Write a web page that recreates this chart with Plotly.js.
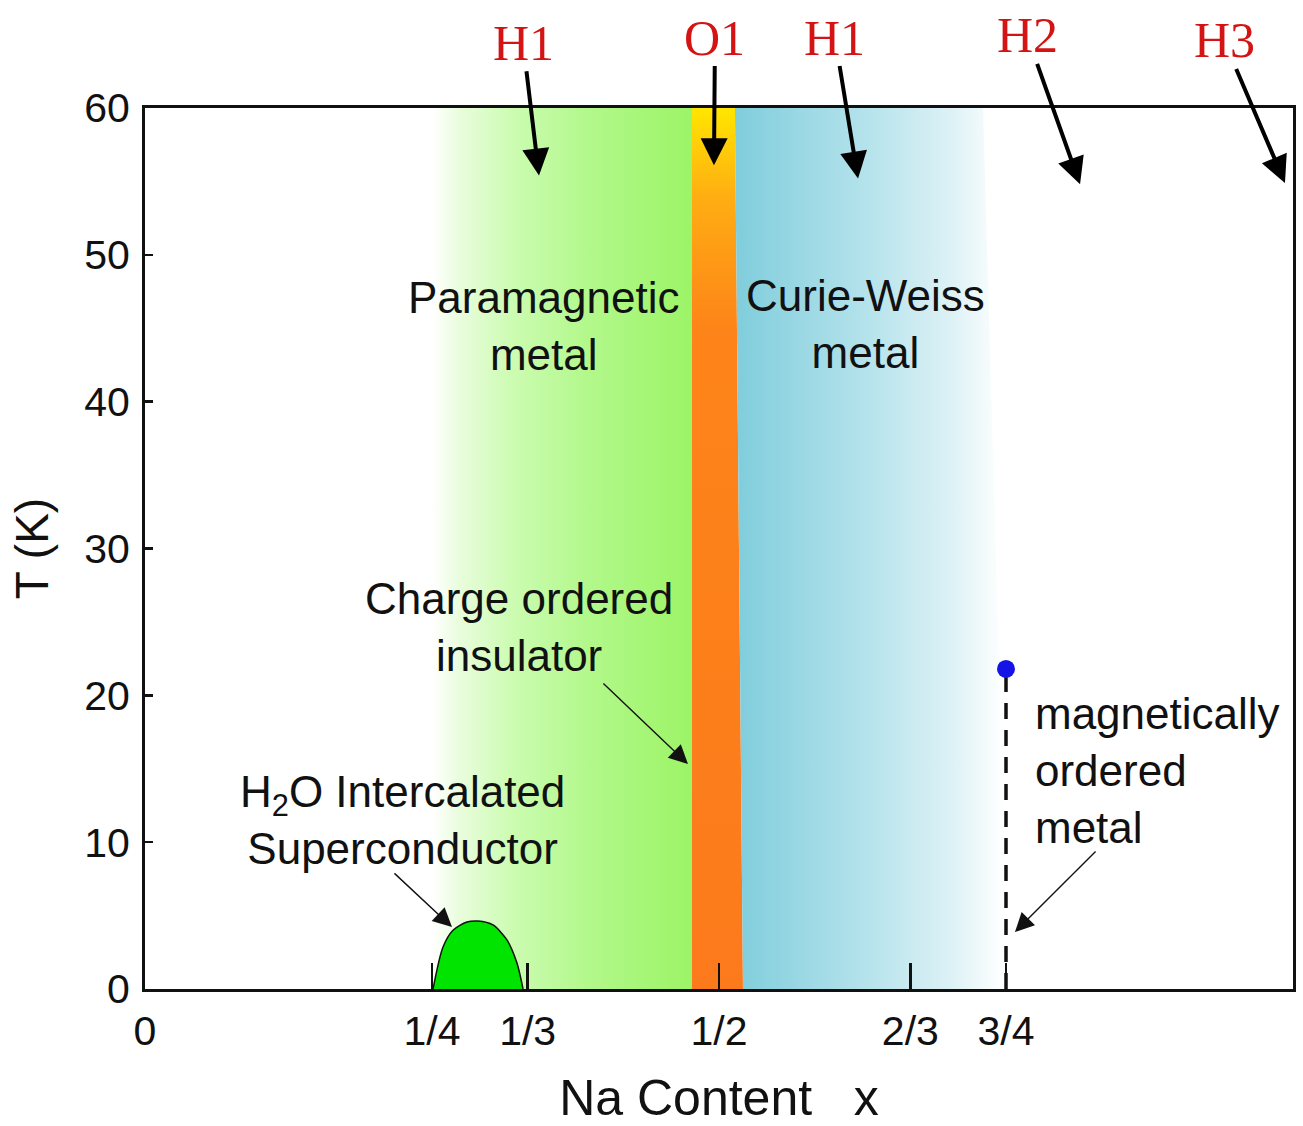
<!DOCTYPE html>
<html>
<head>
<meta charset="utf-8">
<script src="https://cdn.plot.ly/plotly-3.0.1.min.js"></script>
<style>html,body{margin:0;padding:0;background:#fff;}</style>
</head>
<body>
<div id="chart" style="width:1303px;height:1126px;"></div>
<script>
// ---- data ----
const xTickVals = [0, 0.25, 1/3, 0.5, 2/3, 0.75, 1];
const xTickText = ['0', '1/4', '1/3', '1/2', '2/3', '3/4', '1'];
const yTickVals = [0, 10, 20, 30, 40, 50, 60];

// phase region boundaries (x at T=0 and T=60)
const greenX  = [0.250, 0.4765, 0.4765, 0.250];
const greenT  = [0, 0, 60, 60];
const orangeX = [0.4765, 0.5209, 0.5139, 0.4765];
const orangeT = [0, 0, 60, 60];
const blueX   = [0.5209, 0.752, 0.730, 0.5139];
const blueT   = [0, 0, 60, 60];

// superconducting dome
const domeX = [0.2509, 0.2596, 0.2683, 0.2805, 0.2901, 0.3031, 0.3153, 0.3240, 0.3293];
const domeT = [0, 2.86, 4.0, 4.56, 4.63, 4.36, 3.34, 1.77, 0];

// magnetic ordering at x = 3/4
const magX = [0.75, 0.75];
const magT = [0, 21.3];
const magPointX = [0.75];
const magPointT = [21.8];

// structure labels (text centre, arrow head), T in kelvin
const structLabels = ['H1', 'O1', 'H1', 'H2', 'H3'];
const structTextX  = [0.3293, 0.4965, 0.601, 0.7683, 0.9399];
const structTextT  = [64.45, 64.8, 64.8, 64.95, 64.6];
const structHeadX  = [0.3432, 0.4956, 0.6211, 0.8145, 0.9930];
const structHeadT  = [55.4, 56.1, 55.2, 54.8, 54.9];

// phase labels
const phaseLabels = ['Paramagnetic<br>metal', 'Curie-Weiss<br>metal', 'Charge ordered<br>insulator',
                     'H<sub>2</sub>O Intercalated<br>Superconductor'];
const phaseX = [0.3467, 0.628, 0.3258, 0.2239];
const phaseT = [45.15, 45.3, 24.65, 11.5];
const magLabel = 'magnetically<br>ordered<br>metal';
const magLabelX = 0.7735, magLabelT = 14.85;

// pointer arrows (tail -> head)
const ptrTailX = [0.398, 0.216, 0.8293];
const ptrTailT = [20.9, 7.97, 9.47];
const ptrHeadX = [0.473, 0.2674, 0.7578];
const ptrHeadT = [15.32, 4.22, 3.88];

// ---- traces ----
const SANS = 'Liberation Sans, Arial, Helvetica, sans-serif';
const SERIF = 'Liberation Serif, Times New Roman, serif';

const traces = [
  {x: greenX, y: greenT, type: 'scatter', mode: 'lines', fill: 'toself', line: {width: 0},
   fillgradient: {type: 'horizontal', start: 0.250, stop: 0.4765,
     colorscale: [[0, '#ffffff'], [0.1, '#eafdde'], [0.3, '#cdfcb3'], [0.6, '#b2f88b'], [1, '#9cf466']]},
   hoverinfo: 'skip'},
  {x: orangeX, y: orangeT, type: 'scatter', mode: 'lines', fill: 'toself', line: {width: 0},
   fillgradient: {type: 'vertical', start: 0, stop: 60,
     colorscale: [[0, '#fc7a1c'], [0.75, '#fd8419'], [0.9, '#ffae12'], [1, '#ffe600']]},
   hoverinfo: 'skip'},
  {x: blueX, y: blueT, type: 'scatter', mode: 'lines', fill: 'toself', line: {width: 0},
   fillgradient: {type: 'horizontal', start: 0.5139, stop: 0.748,
     colorscale: [[0, '#80cddc'], [0.45, '#b0e1ea'], [0.8, '#dcf1f5'], [1, '#ffffff']]},
   hoverinfo: 'skip'},
  {x: domeX, y: domeT, type: 'scatter', mode: 'lines', fill: 'toself', fillcolor: '#00e400',
   line: {color: '#111', width: 1.5, shape: 'spline', smoothing: 0.8}, hoverinfo: 'skip'},
  {x: magX, y: magT, type: 'scatter', mode: 'lines',
   line: {color: '#111', width: 3.5, dash: '16px,11px'}, hoverinfo: 'skip'},
  {x: magPointX, y: magPointT, type: 'scatter', mode: 'markers',
   marker: {color: '#1414e6', size: 18}, hoverinfo: 'skip', cliponaxis: false}
];

// ---- annotations ----
const annotations = [];
structLabels.forEach((t, i) => {
  annotations.push({x: structHeadX[i], y: structHeadT[i], xref: 'x', yref: 'y',
    ax: structTextX[i], ay: structTextT[i], axref: 'x', ayref: 'y', text: t,
    font: {family: SERIF, size: 50, color: '#d41414'}, borderpad: 0,
    showarrow: true, arrowhead: 2, arrowsize: 1.35, arrowwidth: 4, arrowcolor: '#000', standoff: 0});
});
phaseLabels.forEach((t, i) => {
  annotations.push({x: phaseX[i], y: phaseT[i], xref: 'x', yref: 'y', text: t, showarrow: false,
    align: 'center', font: {family: SANS, size: 44, color: '#111'}});
});
annotations.push({x: magLabelX, y: magLabelT, xref: 'x', yref: 'y', text: magLabel, showarrow: false,
  xanchor: 'left', align: 'left', font: {family: SANS, size: 44, color: '#111'}});
ptrTailX.forEach((tx, i) => {
  annotations.push({x: ptrHeadX[i], y: ptrHeadT[i], xref: 'x', yref: 'y',
    ax: tx, ay: ptrTailT[i], axref: 'x', ayref: 'y', text: '',
    showarrow: true, arrowhead: 2, arrowsize: 2.7, arrowwidth: 1.4, arrowcolor: '#111', standoff: 0});
});

const layout = {
  width: 1303, height: 1126,
  margin: {l: 145, r: 10, t: 108, b: 137},
  paper_bgcolor: '#ffffff', plot_bgcolor: '#ffffff',
  showlegend: false,
  xaxis: {
    range: [0, 1], tickvals: xTickVals, ticktext: xTickText,
    ticks: 'inside', ticklen: 26, tickwidth: 2.5, tickcolor: '#111',
    showline: true, linewidth: 3, linecolor: '#111', mirror: true,
    showgrid: false, zeroline: false, ticklabelstandoff: 4,
    tickfont: {family: SANS, size: 41, color: '#111'},
    title: {text: 'Na Content&nbsp;&nbsp;&nbsp;x', standoff: 30, font: {family: SANS, size: 50, color: '#111'}}
  },
  yaxis: {
    range: [0, 60], tickvals: yTickVals,
    ticks: 'inside', ticklen: 8, tickwidth: 2.5, tickcolor: '#111',
    showline: true, linewidth: 3, linecolor: '#111', mirror: true,
    showgrid: false, zeroline: false, ticklabelstandoff: 4,
    tickfont: {family: SANS, size: 41, color: '#111'},
    title: {text: 'T (K)', standoff: 22, font: {family: SANS, size: 46, color: '#111'}}
  },
  annotations: annotations
};

Plotly.newPlot('chart', traces, layout, {staticPlot: true});
</script>
</body>
</html>
